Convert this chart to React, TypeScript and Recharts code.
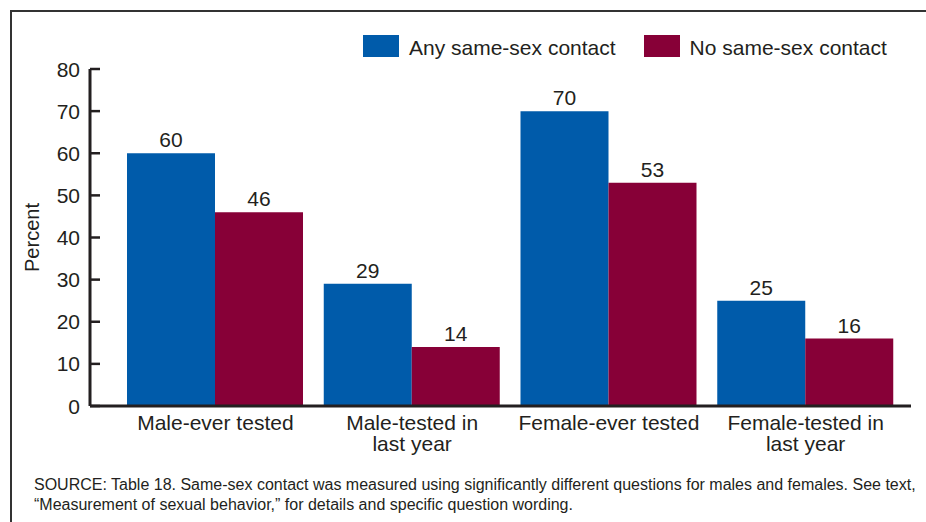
import { Bar, BarChart, LabelList, XAxis, YAxis } from "recharts"

const categories = [
  "Male-ever tested",
  "Male-tested in\nlast year",
  "Female-ever tested",
  "Female-tested in\nlast year",
]
const anyContact = [60, 29, 70, 25]
const noContact = [46, 14, 53, 16]
const yTicks = [0, 10, 20, 30, 40, 50, 60, 70, 80]

const series = [
  { key: "any", name: "Any same-sex contact", color: "#005BAA" },
  { key: "none", name: "No same-sex contact", color: "#870037" },
]

const data = categories.map((name, i) => ({
  name,
  any: anyContact[i],
  none: noContact[i],
}))

const ink = "#231f20"
const font = "'Liberation Sans', Arial, Helvetica, sans-serif"

function YTick(props: any) {
  const { x, y, payload } = props
  return (
    <g>
      <line x1={x + 10} x2={x + 20} y1={y} y2={y} stroke={ink} strokeWidth={2.5} />
      <text x={x} y={y} dy={7.5} textAnchor="end" fontSize={21} fill={ink} fontFamily={font}>
        {payload.value}
      </text>
    </g>
  )
}

function XTick(props: any) {
  const { x, y, payload } = props
  const lines = String(payload.value).split("\n")
  return (
    <text x={x} y={y} textAnchor="middle" fontSize={21} fill={ink} fontFamily={font}>
      {lines.map((l, i) => (
        <tspan key={i} x={x} dy={i === 0 ? 16 : 21}>
          {l}
        </tspan>
      ))}
    </text>
  )
}

function LegendBox() {
  return (
    <div
      style={{
        position: "absolute",
        left: 363,
        top: 34,
        display: "flex",
        fontFamily: font,
        fontSize: 21,
        color: ink,
      }}
    >
      {series.map((s, i) => (
        <div key={s.key} style={{ display: "flex", alignItems: "center", marginRight: i === 0 ? 28 : 0 }}>
          <span style={{ display: "inline-block", width: 36, height: 22, background: s.color, marginRight: 10 }} />
          <span style={{ position: "relative", top: 2 }}>{s.name}</span>
        </div>
      ))}
    </div>
  )
}

export default function App() {
  return (
    <div style={{ position: "absolute", left: 0, top: 0, width: 926, height: 522, background: "#fff" }}>
      <div
        style={{
          position: "absolute",
          left: 10,
          top: 10,
          right: 0,
          bottom: 0,
          borderTop: "2px solid #333",
          borderLeft: "2px solid #333",
        }}
      />
      <BarChart
        width={926}
        height={522}
        data={data}
        margin={{ top: 69, right: 15, left: 0, bottom: 86 }}
        barCategoryGap={10}
        barGap={0}
      >
        <XAxis
          dataKey="name"
          height={30}
          axisLine={{ stroke: ink, strokeWidth: 3 }}
          tickLine={false}
          tick={<XTick />}
          padding={{ left: 27, right: 7 }}
          interval={0}
        />
        <YAxis
          width={90}
          domain={[0, 80]}
          ticks={yTicks}
          interval={0}
          axisLine={{ stroke: ink, strokeWidth: 3 }}
          tickLine={false}
          tickSize={10}
          tickMargin={0}
          tick={<YTick />}
          label={{
            value: "Percent",
            angle: -90,
            position: "insideLeft",
            offset: 32,
            style: { fontSize: 20, fill: ink, fontFamily: font, textAnchor: "middle" },
          }}
        />
        {series.map((s) => (
          <Bar key={s.key} dataKey={s.key} name={s.name} fill={s.color} isAnimationActive={false}>
            <LabelList
              dataKey={s.key}
              position="top"
              offset={6}
              style={{ fontSize: 21, fill: ink, fontFamily: font }}
            />
          </Bar>
        ))}
      </BarChart>
      <LegendBox />
      <div
        style={{
          position: "absolute",
          left: 34,
          top: 475,
          fontFamily: font,
          fontSize: 16,
          lineHeight: "20px",
          color: ink,
          whiteSpace: "nowrap",
        }}
      >
        SOURCE: Table 18. Same-sex contact was measured using significantly different questions for males and females. See text,
        <br />
        “Measurement of sexual behavior,” for details and specific question wording.
      </div>
    </div>
  )
}
